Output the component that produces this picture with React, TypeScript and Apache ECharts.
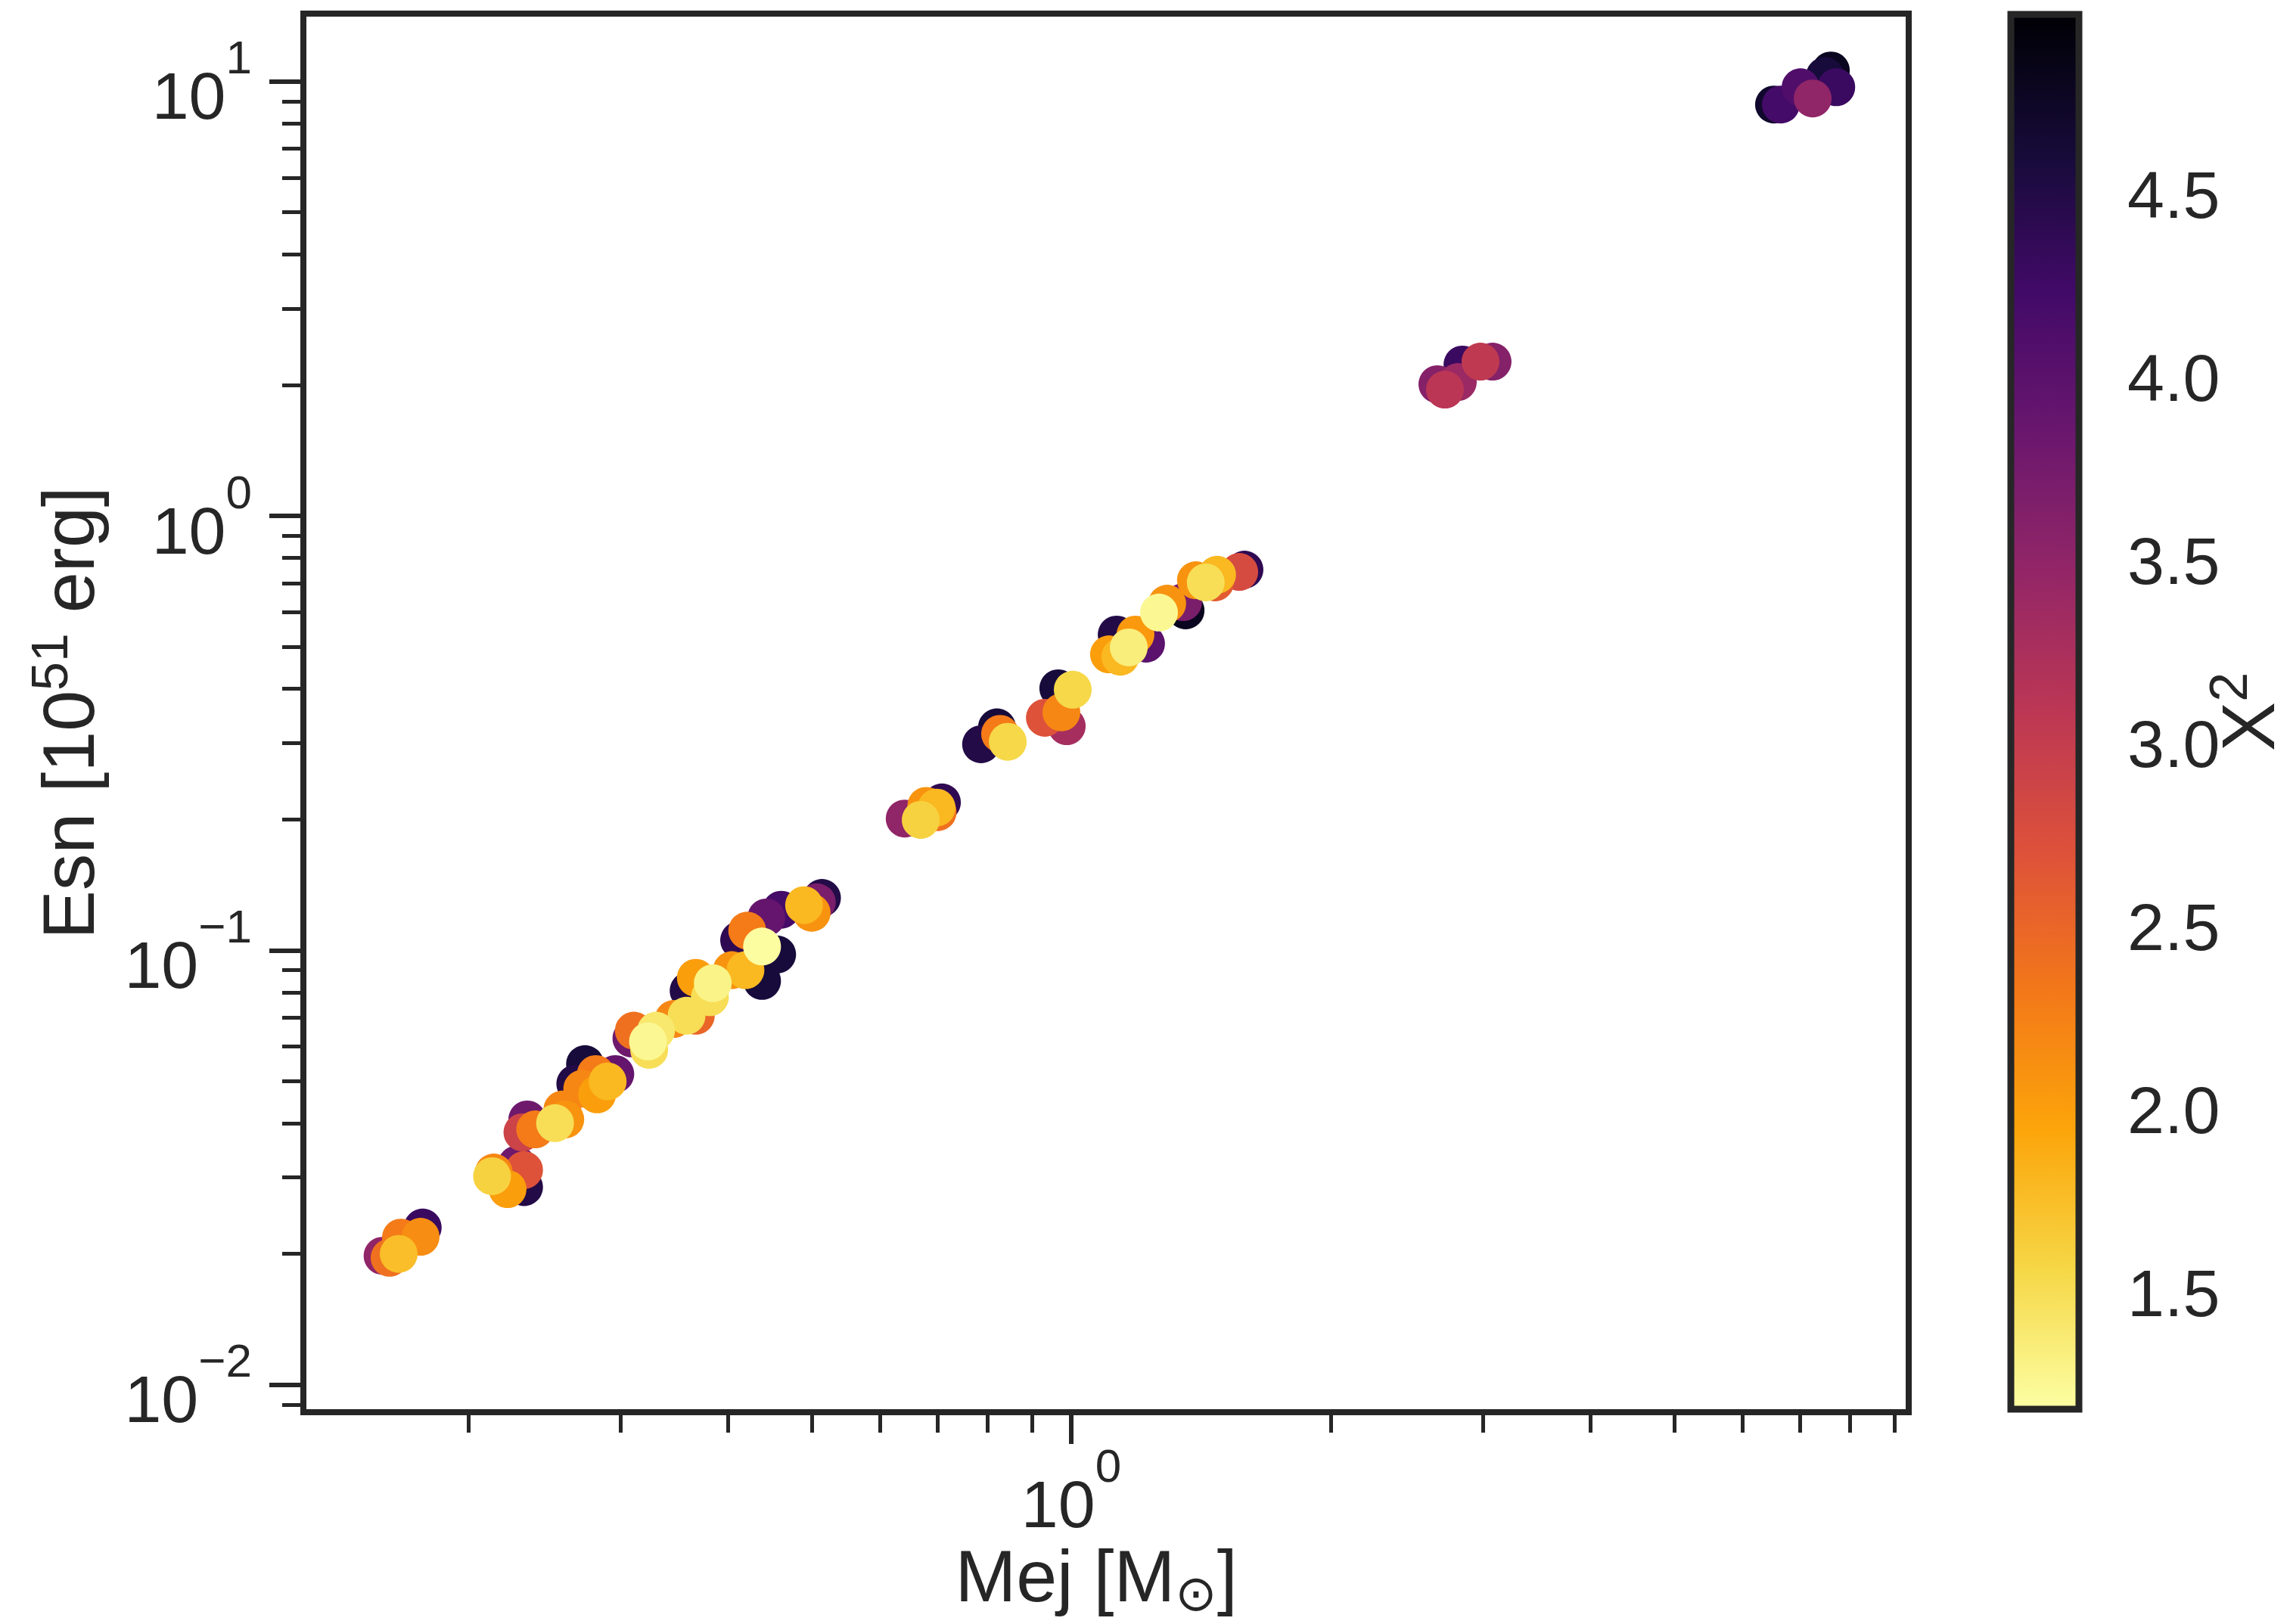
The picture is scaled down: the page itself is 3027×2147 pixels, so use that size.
import React, { useEffect, useRef } from "react";
import * as echarts from "echarts";

// ---- data ----
const mejValues = [
  0.159, 0.162, 0.166, 0.167, 0.176, 0.177,
  0.213, 0.214, 0.222, 0.232, 0.2275, 0.232,
  0.231, 0.234, 0.239, 0.252, 0.259, 0.257,
  0.273, 0.266, 0.271, 0.282, 0.29, 0.296, 0.281,
  0.309, 0.311, 0.323, 0.324, 0.33, 0.346, 0.358, 0.367, 0.36, 0.367, 0.381, 0.384, 0.404, 0.419, 0.438,
  0.412, 0.421, 0.438, 0.456, 0.443, 0.461, 0.5, 0.49, 0.507, 0.514,
  0.641, 0.669, 0.679, 0.698, 0.708, 0.7,
  0.786, 0.82, 0.827, 0.844,
  0.932, 0.988, 0.974, 0.966, 1.004,
  1.129, 1.221, 1.187, 1.106, 1.14, 1.166,
  1.357, 1.348, 1.292, 1.264,
  1.588, 1.566, 1.468, 1.395, 1.476, 1.432,
  2.658, 2.712, 2.807, 2.842, 3.08, 2.982,
  6.53, 6.65, 7.01, 7.24, 7.48, 7.71, 7.6,
];
const esnValues = [
  0.0198, 0.0196, 0.02, 0.0218, 0.0219, 0.023,
  0.0302, 0.0308, 0.0282, 0.0312, 0.0321, 0.0285,
  0.0381, 0.0408, 0.0387, 0.04, 0.0408, 0.043,
  0.0547, 0.0493, 0.048, 0.0466, 0.0499, 0.0519, 0.0519,
  0.0627, 0.0653, 0.0617, 0.059, 0.0653, 0.0695, 0.0707, 0.0707, 0.0807, 0.0864, 0.078, 0.084, 0.09, 0.09, 0.085,
  0.1055, 0.111, 0.102, 0.0978, 0.119, 0.124, 0.122, 0.127, 0.129, 0.132,
  0.201, 0.1996, 0.215, 0.213, 0.219, 0.208,
  0.298, 0.326, 0.315, 0.302,
  0.343, 0.328, 0.353, 0.401, 0.398,
  0.533, 0.508, 0.533, 0.48, 0.474, 0.498,
  0.606, 0.633, 0.628, 0.599,
  0.752, 0.743, 0.703, 0.711, 0.732, 0.703,
  2.009, 1.953, 2.033, 2.23, 2.265, 2.265,
  8.85, 8.85, 9.7, 9.14, 10.3, 9.7, 10.6,
];
const chi2Values = [
  3.5, 2.4, 1.75, 2.3, 2.15, 4.3,
  1.6, 2.2, 2.0, 2.7, 3.8, 4.5,
  2.9, 3.8, 2.3, 1.5, 2.1, 2.2,
  4.6, 4.5, 2.2, 2.0, 1.8, 3.9, 2.3,
  3.8, 2.4, 1.25, 1.5, 1.4, 2.2, 1.5, 2.5, 4.5, 2.0, 1.5, 1.3, 2.1, 1.8, 4.6,
  4.4, 2.3, 1.2, 4.6, 3.9, 4.2, 2.1, 1.8, 3.7, 4.5,
  3.5, 1.6, 2.1, 1.8, 4.4, 2.4,
  4.5, 4.6, 2.3, 1.55,
  2.7, 3.3, 2.2, 4.6, 1.55,
  4.5, 4.0, 2.05, 2.0, 1.8, 1.35,
  4.8, 3.7, 2.1, 1.25,
  4.4, 2.8, 2.6, 2.1, 1.8, 1.5,
  3.6, 3.1, 3.4, 4.3, 3.6, 3.05,
  4.7, 4.2, 4.1, 3.5, 4.6, 4.3, 4.8,
];

const xMajorTicks = [1];
const xMinorTicks = [0.2, 0.3, 0.4, 0.5, 0.6, 0.7, 0.8, 0.9, 2, 3, 4, 5, 6, 7, 8, 9];
const yMajorTicks = [0.01, 0.1, 1, 10];
const yMinorTicks = [
  0.009, 0.02, 0.03, 0.04, 0.05, 0.06, 0.07, 0.08, 0.09,
  0.2, 0.3, 0.4, 0.5, 0.6, 0.7, 0.8, 0.9, 2, 3, 4, 5, 6, 7, 8, 9,
];
const cbTicks = [1.5, 2.0, 2.5, 3.0, 3.5, 4.0, 4.5];
const xRange = [0.1287, 9.356];
const yRange = [0.008642, 14.33];
const cbRange = [1.182, 4.994];

// inferno, reversed (low chi2 -> light yellow, high -> black)
const infernoReversed = [
  "#fcffa4", "#f6d746", "#fca50a", "#f37819", "#dd513a", "#bc3754",
  "#932667", "#6a176e", "#420a68", "#160b39", "#000004",
];

const INK = "#262626";
const FONT = "'Liberation Sans', Arial, Helvetica, sans-serif";

const expLabel = (v: number) => {
  const e = Math.round(Math.log10(v));
  const s = e < 0 ? "\u2212" + Math.abs(e) : String(e);
  return `{b|10}{s|${s}}`;
};

const tickRich = {
  b: { fontSize: 88, fontFamily: FONT, color: INK, verticalAlign: "bottom" },
  s: { fontSize: 62, fontFamily: FONT, color: INK, verticalAlign: "bottom", padding: [0, 0, 64, 0] },
};

export default function App() {
  const ref = useRef<HTMLDivElement>(null);
  useEffect(() => {
    if (!ref.current) return;
    const chart = echarts.init(ref.current, null, { renderer: "svg" });
    const points = mejValues
      .map((m, i) => [m, esnValues[i], chi2Values[i]])
      .sort((a, b) => b[2] - a[2]);

    const gradStops = infernoReversed.map((c, i) => ({
      offset: i / (infernoReversed.length - 1),
      color: c,
    }));

    const option: any = {
      animation: false,
      backgroundColor: "#ffffff",
      grid: [
        {
          left: 401, top: 18, width: 2122, height: 1849,
          show: true, borderColor: INK, borderWidth: 8, backgroundColor: "transparent",
          containLabel: false, outerBoundsMode: "none",
        },
        {
          left: 2658, top: 19, width: 90, height: 1844,
          show: false, containLabel: false, outerBoundsMode: "none",
        },
      ],
      visualMap: {
        type: "continuous",
        show: false,
        min: cbRange[0],
        max: cbRange[1],
        dimension: 2,
        seriesIndex: 0,
        inRange: { color: infernoReversed },
      },
      xAxis: [
        {
          type: "log", logBase: 10, gridIndex: 0, position: "bottom", min: xRange[0], max: xRange[1],
          name: "{b|Mej [M}{sub|\u2299}{b|]}",
          nameLocation: "middle", nameGap: 168, nameMoveOverlap: false,
          nameTextStyle: {
            fontSize: 97, fontFamily: FONT, color: INK, padding: [0, 26, 0, 0],
            rich: {
              b: { fontSize: 97, fontFamily: FONT, color: INK, verticalAlign: "top" },
              sub: { fontSize: 66, fontFamily: "'DejaVu Sans', sans-serif", color: INK, verticalAlign: "top", padding: [38, 0, 0, 0] },
            },
          },
          axisLine: { show: false },
          axisTick: { show: true, customValues: xMajorTicks, length: 42, lineStyle: { color: INK, width: 6 } },
          axisLabel: { show: true, customValues: xMajorTicks, formatter: expLabel, margin: 39, fontSize: 88, fontFamily: FONT, color: INK, rich: tickRich },
          splitLine: { show: false },
          minorTick: { show: false },
        },
        {
          type: "log", logBase: 10, gridIndex: 0, position: "bottom", min: xRange[0], max: xRange[1],
          axisLine: { show: false },
          axisTick: { show: true, customValues: xMinorTicks, length: 27, lineStyle: { color: INK, width: 5 } },
          axisLabel: { show: false },
          splitLine: { show: false },
        },
        {
          type: "value", gridIndex: 1, min: 0, max: 1, show: false,
        },
      ],
      yAxis: [
        {
          type: "log", logBase: 10, gridIndex: 0, position: "left", min: yRange[0], max: yRange[1],
          name: "{b|Esn [10}{s|51}{b| erg]}",
          nameLocation: "middle", nameRotate: 90, nameGap: 262, nameMoveOverlap: false,
          nameTextStyle: {
            fontSize: 97, fontFamily: FONT, color: INK,
            rich: {
              b: { fontSize: 97, fontFamily: FONT, color: INK, verticalAlign: "bottom" },
              s: { fontSize: 68, fontFamily: FONT, color: INK, verticalAlign: "bottom", padding: [0, 0, 40, 0] },
            },
          },
          axisLine: { show: false },
          axisTick: { show: true, customValues: yMajorTicks, length: 45, lineStyle: { color: INK, width: 6 } },
          axisLabel: { show: true, customValues: yMajorTicks, formatter: expLabel, margin: 68, fontSize: 88, fontFamily: FONT, color: INK, rich: tickRich },
          splitLine: { show: false },
          minorTick: { show: false },
        },
        {
          type: "log", logBase: 10, gridIndex: 0, position: "left", min: yRange[0], max: yRange[1],
          axisLine: { show: false },
          axisTick: { show: true, customValues: yMinorTicks, length: 28, lineStyle: { color: INK, width: 5 } },
          axisLabel: { show: false },
          splitLine: { show: false },
        },
        {
          type: "value", gridIndex: 1, min: cbRange[0], max: cbRange[1], position: "right",
          name: "{b|X}{s|2}",
          nameLocation: "middle", nameRotate: 90, nameGap: 163, nameMoveOverlap: false,
          nameTextStyle: {
            fontSize: 98, fontFamily: FONT, color: INK,
            rich: {
              b: { fontSize: 98, height: 84, fontFamily: FONT, color: INK, verticalAlign: "bottom" },
              s: { fontSize: 70, fontFamily: FONT, color: INK, verticalAlign: "bottom", padding: [0, 0, 33, 0] },
            },
          },
          axisLine: { show: false },
          axisTick: { show: true, customValues: cbTicks, length: 43, lineStyle: { color: INK, width: 5 } },
          axisLabel: {
            show: true, customValues: cbTicks, margin: 64, fontSize: 88, fontFamily: FONT, color: INK,
            formatter: (v: number) => v.toFixed(1),
          },
          splitLine: { show: false },
        },
      ],
      series: [
        {
          type: "scatter",
          xAxisIndex: 0,
          yAxisIndex: 0,
          data: points,
          symbol: "circle",
          symbolSize: 50,
          itemStyle: { opacity: 1 },
          emphasis: { disabled: true },
          silent: true,
        },
        {
          type: "custom",
          xAxisIndex: 2,
          yAxisIndex: 2,
          silent: true,
          clip: false,
          data: [[0, cbRange[0], 1, cbRange[1]]],
          renderItem: (params: any, api: any) => {
            const p0 = api.coord([api.value(0), api.value(1)]);
            const p1 = api.coord([api.value(2), api.value(3)]);
            return {
              type: "rect",
              shape: { x: p0[0], y: p1[1], width: p1[0] - p0[0], height: p0[1] - p1[1] },
              style: {
                fill: new echarts.graphic.LinearGradient(0, 1, 0, 0, gradStops),
                stroke: INK,
                lineWidth: 9,
              },
            };
          },
        },
      ],
    };
    chart.setOption(option);
    return () => chart.dispose();
  }, []);

  return (
    <div
      ref={ref}
      style={{ position: "absolute", left: 0, top: 0, width: 3027, height: 2147, background: "#fff" }}
    />
  );
}
